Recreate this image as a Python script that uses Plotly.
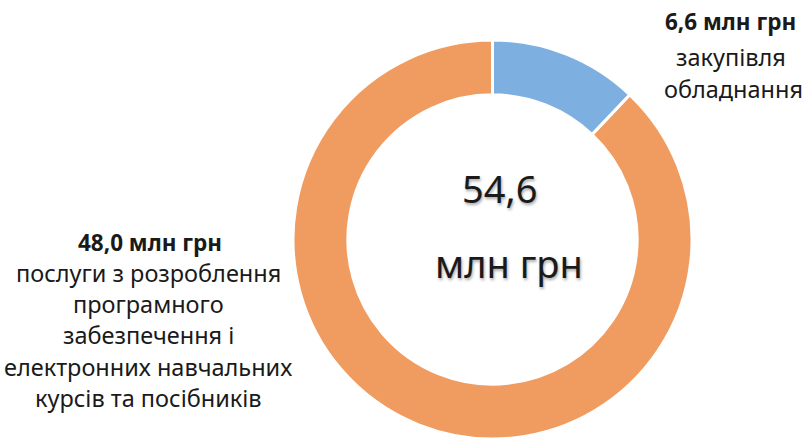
import plotly.graph_objects as go

categories = ["закупівля обладнання",
              "послуги з розроблення програмного забезпечення і електронних навчальних курсів та посібників"]
values = [6.6, 48.0]
colors = ["#7DB0E0", "#F09C61"]
total_label = "54,6"
unit = "млн грн"

W, H = 804, 439
cx, cy, r = 492.5, 239.5, 199.5

fig = go.Figure(go.Pie(
    labels=categories, values=values, sort=False, direction="clockwise", rotation=0,
    hole=0.725, textinfo="none", hoverinfo="label+value",
    marker=dict(colors=colors, line=dict(color="white", width=3)),
    domain=dict(x=[(cx - r) / W, (cx + r) / W], y=[(H - cy - r) / H, (H - cy + r) / H]),
    showlegend=False,
))

FONT = "Noto Sans"
ann = []
def line(text, px, py, size, bold=False, shadow=None):
    f = dict(family=FONT, size=size, color="#1a1a1a")
    if shadow:
        f["shadow"] = shadow
    ann.append(dict(text=("<b>%s</b>" % text) if bold else text, x=px / W, y=1 - py / H,
                    xref="paper", yref="paper", showarrow=False,
                    xanchor="center", yanchor="middle", font=f))

# centre
sh = "1px 2px 3px rgba(0,0,0,0.35)"
line(total_label, 500, 188, 38, shadow=sh)
line(unit, 509, 263, 38, shadow=sh)

# right label
line("%s %s" % (f"{values[0]:.1f}".replace(".", ","), unit), 730, 22, 22.5, bold=True)
line("закупівля", 731, 57, 23.5)
line("обладнання", 733, 89, 23.5)

# left label
left_lines = ["послуги з розроблення", "програмного", "забезпечення і",
              "електронних навчальних", "курсів та посібників"]
line("%s %s" % (f"{values[1]:.1f}".replace(".", ","), unit), 150, 242, 22.5, bold=True)
for i, t in enumerate(left_lines):
    line(t, 148, 273 + i * 31.2, 23.5)

fig.update_layout(width=W, height=H, margin=dict(l=0, r=0, t=0, b=0),
                  paper_bgcolor="white", plot_bgcolor="white", annotations=ann)
fig.write_html("out.html", config={"displayModeBar": False},
               post_script="document.body.style.margin='0';")
